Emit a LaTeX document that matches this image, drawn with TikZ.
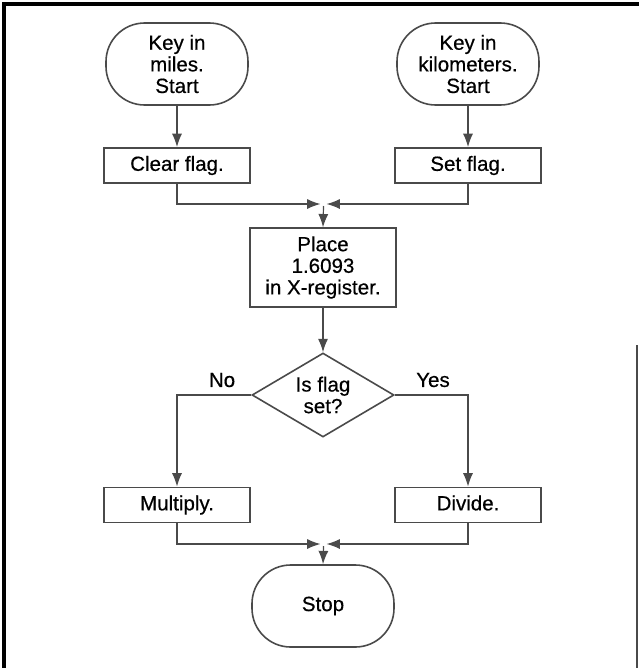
\documentclass[tikz,border=0pt]{standalone}
\usepackage{fontspec}
\setmainfont{Liberation Sans}
\newfontfamily\medfont{Liberation Sans}[FakeBold=0.5]
\usetikzlibrary{shapes.geometric,arrows.meta}
\definecolor{ln}{HTML}{4A4A4A}
\tikzset{
  base/.style={draw=ln, line width=1.2pt, align=center, text=black,
    font=\medfont\fontsize{15.4}{16.2}\selectfont, inner sep=0pt},
  term/.style={base, rectangle, rounded corners=29pt, minimum width=106.5pt, minimum height=61.5pt},
  proc/.style={base, rectangle, minimum width=109.5pt, minimum height=26.5pt,
    text height=11pt, text depth=3pt},
  procbig/.style={base, rectangle, minimum width=109.5pt, minimum height=59pt},
  dec/.style={base, diamond, minimum width=106.5pt, minimum height=63pt, aspect=1.7},
  flow/.style={draw=ln, line width=0.9pt, -{Latex[length=10pt,width=7.5pt]}},
  lbl/.style={font=\medfont\fontsize{15.4}{16.2}\selectfont, inner sep=0pt}
}
\begin{document}
\begin{tikzpicture}[x=0.75pt,y=-0.75pt]
\useasboundingbox (0,0) rectangle (639,668);
% frame
\draw[black, line width=2.4pt] (4,668) -- (4,4) -- (639,4);
\draw[ln, line width=0.8pt] (637,345) -- (637,668);
% nodes
\node[term] (s1) at (177,64) {Key in\\miles.\\Start};
\node[term] (s2) at (468,64) {Key in\\kilometers.\\Start};
\node[proc] (clr) at (177,165.5) {Clear flag.};
\node[proc] (setf) at (468,165.5) {Set flag.};
\node[procbig] (plc) at (323,267.5) {Place\\1.6093\\in X-register.};
\node[dec] (dia) at (323,395) {Is flag\\set?};
\node[proc] (mul) at (177,505) {Multiply.};
\node[proc] (div) at (468,505) {Divide.};
\node[term] (stp) at (323,606) {Stop};
% junction coordinates
\coordinate (j1l) at (320.5,204);
\coordinate (j1r) at (326.5,204);
\coordinate (j1d) at (323.5,206);
\coordinate (j2l) at (320.5,544);
\coordinate (j2r) at (326.5,544);
\coordinate (j2d) at (323.5,546);
% connectors
\draw[flow] (s1) -- (clr);
\draw[flow] (s2) -- (setf);
\draw[flow] (clr.south) |- (j1l);
\draw[flow] (setf.south) |- (j1r);
\draw[flow] (j1d) -- (plc.north);
\draw[flow] (plc) -- (dia);
\draw[flow] (dia.west) -| (mul.north);
\draw[flow] (dia.east) -| (div.north);
\draw[flow] (mul.south) |- (j2l);
\draw[flow] (div.south) |- (j2r);
\draw[flow] (j2d) -- (stp.north);
% labels
\node[lbl] (no) at (222,380) {No};
\node[lbl] (yes) at (433,380) {Yes};
\end{tikzpicture}
\end{document}
